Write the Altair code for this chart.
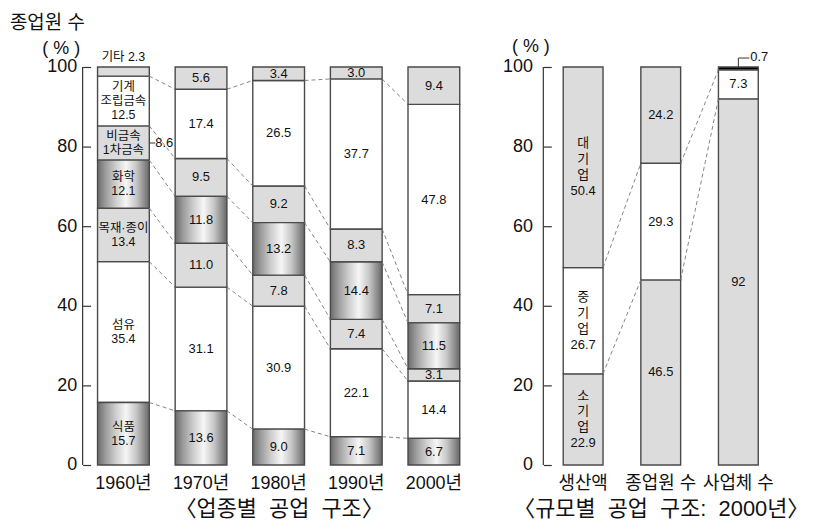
import altair as alt
import pandas as pd

# ---------------- data ----------------
years = ["1960년", "1970년", "1980년", "1990년", "2000년"]
industries = ["식품", "섬유", "목재·종이", "화학", "비금속·1차금속", "기계·조립금속", "기타"]
food = [15.7, 13.6, 9.0, 7.1, 6.7]
textile = [35.4, 31.1, 30.9, 22.1, 14.4]
wood_paper = [13.4, 11.0, 7.8, 7.4, 3.1]
chemical = [12.1, 11.8, 13.2, 14.4, 11.5]
metal = [8.6, 9.5, 9.2, 8.3, 7.1]
machinery = [12.5, 17.4, 26.5, 37.7, 47.8]
other = [2.3, 5.6, 3.4, 3.0, 9.4]
names_1960 = ["식품", "섬유", "목재·종이", "화학", "비금속\n1차금속", "기계\n조립금속", "기타"]

measures = ["생산액", "종업원 수", "사업체 수"]
sizes = ["소기업", "중기업", "대기업"]
small = [22.9, 46.5, 92]
medium = [26.7, 29.3, 7.3]
large = [50.4, 24.2, 0.7]
size_names = ["소\n기\n업", "중\n기\n업", "대\n기\n업"]

FONT = "Liberation Sans, Noto Sans CJK KR, sans-serif"
NB = "\u00a0"

# ---------------- left table ----------------
series = [food, textile, wood_paper, chemical, metal, machinery, other]
rows = []
for yi, yr in enumerate(years):
    cum = 0.0
    for ci, cat in enumerate(industries):
        v = series[ci][yi]
        if yi == 0:
            if ci == 6:
                lab = ""
            elif ci == 4:
                lab = names_1960[ci]
            else:
                lab = names_1960[ci] + "\n" + f"{v:.1f}"
        else:
            lab = f"{v:.1f}"
        rows.append(dict(year=yr, cat=cat, value=v, start=cum, end=cum + v,
                         mid=cum + v / 2, label=lab, nl=lab.count("\n") + 1))
        cum += v
left_df = pd.DataFrame(rows)

conn = []
for yi in range(len(years) - 1):
    for k in range(1, len(industries)):
        conn.append(dict(frm=years[yi], to=years[yi + 1],
                         y1=sum(s[yi] for s in series[:k]),
                         y2=sum(s[yi + 1] for s in series[:k])))
conn_df = pd.DataFrame(conn)

# ---------------- right table ----------------
rseries = [small, medium, large]
rrows = []
for mi, m in enumerate(measures):
    cum = 0.0
    for si, sz in enumerate(sizes):
        v = rseries[si][mi]
        if mi == 0:
            lab = size_names[si] + "\n" + f"{v:g}"
        elif v < 1:
            lab = ""
        else:
            lab = f"{v:g}"
        rrows.append(dict(measure=m, size=sz, value=v, start=cum, end=cum + v,
                          mid=cum + v / 2, label=lab, nl=lab.count("\n") + 1))
        cum += v
right_df = pd.DataFrame(rrows)

rconn = []
for mi in range(len(measures) - 1):
    for k in range(1, len(sizes)):
        rconn.append(dict(frm=measures[mi], to=measures[mi + 1],
                          y1=sum(s[mi] for s in rseries[:k]),
                          y2=sum(s[mi + 1] for s in rseries[:k])))
rconn_df = pd.DataFrame(rconn)

# ---------------- styles ----------------
GRAY = "#dcdcdc"
STROKE = "#4a4a4a"
grad = alt.LinearGradient(
    gradient="linear", x1=0, x2=1, y1=0, y2=0,
    stops=[
        alt.GradientStop(color="#6c6c6c", offset=0),
        alt.GradientStop(color="#9a9a9a", offset=0.15),
        alt.GradientStop(color="#cdcdcd", offset=0.35),
        alt.GradientStop(color="#f6f6f6", offset=0.55),
        alt.GradientStop(color="#c6c6c6", offset=0.75),
        alt.GradientStop(color="#8e8e8e", offset=0.9),
        alt.GradientStop(color="#676767", offset=1),
    ],
)

ys = alt.Scale(domain=[0, 100], nice=False, zero=True)


def y_axis(tx, ty, pad):
    return alt.Axis(values=[0, 20, 40, 60, 80, 100], domain=False, offset=-8,
                    tickSize=8, tickColor="#333", tickWidth=1.2, grid=False,
                    labelFontSize=18, labelPadding=pad, labelColor="#111",
                    title="(" + NB + "%" + NB + ")", titleAngle=0, titleAlign="left",
                    titleBaseline="middle", titleX=tx, titleY=ty,
                    titleFontSize=18, titleFontWeight="normal", titleColor="#111")


def x_axis(title):
    return alt.Axis(domain=False, ticks=False, labelAngle=0, labelFontSize=18,
                    labelPadding=10, labelColor="#111", title=title,
                    titleFontSize=22, titleFontWeight="normal", titlePadding=6,
                    titleColor="#111")


def text_layers(base, xenc, size, lh, counts):
    out = []
    for n in counts:
        out.append(base.transform_filter(f"datum.nl == {n}").mark_text(
            fontSize=size, lineHeight=lh, lineBreak="\n", color="#111",
            baseline="middle", dy=-(n - 1) * lh / 2).encode(
            x=xenc, y=alt.Y("mid:Q", scale=ys), text="label:N"))
    return out


axis_rule_data = pd.DataFrame({"a": [0]})
GAP = " " + NB

# ---------------- left chart ----------------
xs_l = alt.Scale(domain=years, paddingInner=1 / 3, paddingOuter=15 / 78)
lbase = alt.Chart(left_df)

l_flat = lbase.transform_filter(
    "datum.cat != '식품' && datum.cat != '화학'"
).mark_bar(stroke=STROKE, strokeWidth=1.4).encode(
    x=alt.X("year:N", scale=xs_l, sort=years,
            axis=x_axis("〈업종별" + GAP + "공업" + GAP + "구조〉")),
    y=alt.Y("start:Q", scale=ys, axis=y_axis(-49, -19, 6)),
    y2="end:Q",
    fill=alt.Fill("cat:N", legend=None,
                  scale=alt.Scale(domain=industries,
                                  range=["#999", "white", GRAY, "#999", GRAY, "white", GRAY])),
)
l_grad = lbase.transform_filter(
    "datum.cat == '식품' || datum.cat == '화학'"
).mark_bar(fill=grad, stroke=STROKE, strokeWidth=1.4).encode(
    x=alt.X("year:N", scale=xs_l, sort=years),
    y=alt.Y("start:Q", scale=ys),
    y2="end:Q",
)
l_conn = alt.Chart(conn_df).mark_rule(strokeDash=[4, 3], color="#777", strokeWidth=0.9).encode(
    x=alt.X("frm:N", bandPosition=1, scale=xs_l),
    x2=alt.X2("to:N", bandPosition=0),
    y=alt.Y("y1:Q", scale=ys),
    y2="y2:Q",
)
xl = alt.X("year:N", scale=xs_l)
l_text60 = text_layers(lbase.transform_filter("datum.label != '' && datum.year == '1960년'"),
                       xl, 12.5, 14, [1, 2, 3])
l_text = text_layers(lbase.transform_filter("datum.label != '' && datum.year != '1960년'"),
                     xl, 13, 14, [1])
l_other = lbase.transform_filter(
    "datum.year == '1960년' && datum.cat == '기타'"
).transform_calculate(t="datum.cat + ' ' + format(datum.value, '.1f')").mark_text(
    fontSize=12.5, color="#111", baseline="bottom", dy=-3).encode(
    x=xl, y=alt.Y("end:Q", scale=ys), text="t:N")
l_metal_rule = lbase.transform_filter(
    "datum.year == '1960년' && datum.cat == '비금속·1차금속'"
).mark_rule(color="#333", strokeWidth=1, x2Offset=6).encode(
    x=alt.X("year:N", scale=xs_l, bandPosition=1),
    x2=alt.X2("year:N", bandPosition=1),
    y=alt.Y("mid:Q", scale=ys))
l_metal_text = lbase.transform_filter(
    "datum.year == '1960년' && datum.cat == '비금속·1차금속'"
).transform_calculate(t="format(datum.value, '.1f')").mark_text(
    fontSize=13, color="#111", align="left", baseline="middle", dx=6).encode(
    x=alt.X("year:N", scale=xs_l, bandPosition=1),
    y=alt.Y("mid:Q", scale=ys), text="t:N")
l_domain = alt.Chart(axis_rule_data).mark_rule(color="#333", strokeWidth=1.2).encode(
    x=alt.value(0), y=alt.datum(0, scale=ys), y2=alt.datum(100))

left = alt.layer(l_flat, l_grad, l_conn, *l_text60, *l_text, l_other,
                 l_metal_rule, l_metal_text, l_domain).properties(
    width=394, height=400,
    title=alt.TitleParams("종업원 수", anchor="start", fontSize=19,
                          fontWeight="normal", dx=-32, offset=6, color="#111"),
)

# ---------------- right chart ----------------
xs_r = alt.Scale(domain=measures, paddingInner=1 - 40 / 78, paddingOuter=20 / 78)
rbase = alt.Chart(right_df)
xr = alt.X("measure:N", scale=xs_r)

r_bars = rbase.mark_bar(stroke=STROKE, strokeWidth=1.4).encode(
    x=alt.X("measure:N", scale=xs_r, sort=measures,
            axis=x_axis("〈규모별" + GAP + "공업" + GAP + "구조:" + GAP + "2000년〉")),
    y=alt.Y("start:Q", scale=ys, axis=y_axis(-40, -21, 11)),
    y2="end:Q",
    fill=alt.condition("datum.value < 1", alt.value("black"),
                       alt.Fill("size:N", legend=None,
                                scale=alt.Scale(domain=sizes, range=[GRAY, "white", GRAY]))),
)
r_conn = alt.Chart(rconn_df).mark_rule(strokeDash=[4, 3], color="#777", strokeWidth=0.9).encode(
    x=alt.X("frm:N", bandPosition=1, scale=xs_r),
    x2=alt.X2("to:N", bandPosition=0),
    y=alt.Y("y1:Q", scale=ys),
    y2="y2:Q",
)
r_text = text_layers(rbase.transform_filter("datum.label != ''"), xr, 13, 16, [1, 4])
tiny = rbase.transform_filter("datum.value < 1")
r_lead_v = tiny.mark_rule(color="#333", strokeWidth=1, y2Offset=-9).encode(
    x=xr, y=alt.Y("end:Q", scale=ys), y2=alt.Y2("end:Q"))
r_lead_h = tiny.mark_rule(color="#333", strokeWidth=1, x2Offset=11, yOffset=-9).encode(
    x=xr, x2=alt.X2("measure:N"), y=alt.Y("end:Q", scale=ys))
r_tiny_text = tiny.transform_calculate(t="format(datum.value, '.1f')").mark_text(
    fontSize=13, color="#111", align="left", baseline="middle", dx=12, dy=-10).encode(
    x=xr, y=alt.Y("end:Q", scale=ys), text="t:N")
r_domain = alt.Chart(axis_rule_data).mark_rule(color="#333", strokeWidth=1.2).encode(
    x=alt.value(0), y=alt.datum(0, scale=ys), y2=alt.datum(100))

right = alt.layer(r_bars, r_conn, *r_text, r_lead_v, r_lead_h, r_tiny_text, r_domain).properties(
    width=236, height=400)

chart = alt.hconcat(left, right, spacing=27).resolve_scale(fill="independent").properties(
    padding={"left": 2, "top": 5, "right": 0, "bottom": 0}
).configure(font=FONT).configure_view(stroke=None)

chart.save("out.html", embed_options={"renderer": "svg", "actions": False})
